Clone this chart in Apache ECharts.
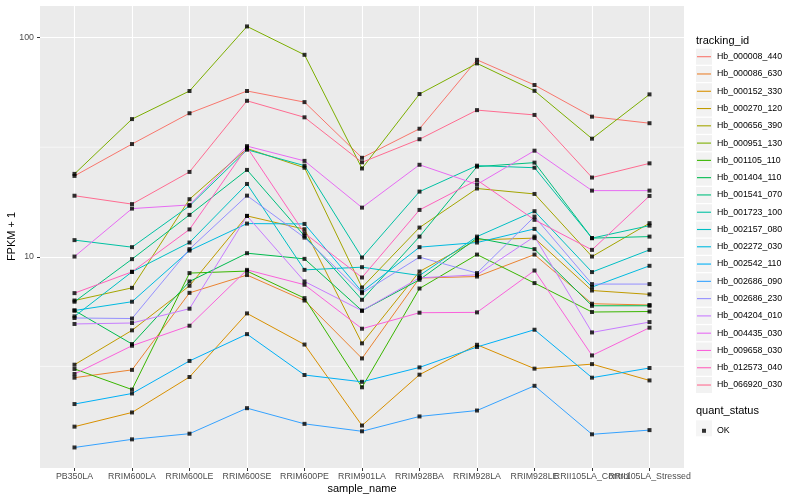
<!DOCTYPE html>
<html><head><meta charset="utf-8">
<script src="https://cdn.jsdelivr.net/npm/echarts@6/dist/echarts.min.js"></script>
<style>html,body{margin:0;padding:0;background:#fff}#c{width:800px;height:500px}</style>
</head><body><div id="c"></div>
<script>
const categories = ['PB350LA','RRIM600LA','RRIM600LE','RRIM600SE','RRIM600PE','RRIM901LA','RRIM928BA','RRIM928LA','RRIM928LE','RRII105LA_Control','RRII105LA_Stressed'];
const trackingIds = ['Hb_000008_440','Hb_000086_630','Hb_000152_330','Hb_000270_120','Hb_000656_390','Hb_000951_130','Hb_001105_110','Hb_001404_110','Hb_001541_070','Hb_001723_100','Hb_002157_080','Hb_002272_030','Hb_002542_110','Hb_002686_090','Hb_002686_230','Hb_004204_010','Hb_004435_030','Hb_009658_030','Hb_012573_040','Hb_066920_030'];
const colors = ['#F8766D','#EA8331','#D89000','#C09B00','#A3A500','#7CAE00','#39B600','#00BB4E','#00BF7D','#00C1A3','#00BFC4','#00BAE0','#00B0F6','#35A2FF','#9590FF','#C77CFF','#E76BF3','#FA62DB','#FF62BC','#FF6C91'];
const yMinorBreaks = [3.1623, 31.623];

const hb000008_440 = [23.4, 32.7, 45.2, 57.1, 50.8, 28.3, 38.4, 79.2, 60.8, 43.6, 40.7];
const hb000086_630 = [2.81, 3.05, 6.85, 8.26, 6.32, 3.44, 8.0, 8.13, 10.24, 6.11, 6.03];
const hb000152_330 = [1.68, 1.95, 2.83, 5.52, 3.98, 1.70, 2.90, 3.97, 3.09, 3.24, 2.73];
const hb000270_120 = [3.22, 4.62, 7.38, 15.37, 13.37, 4.03, 8.57, 11.95, 12.17, 7.02, 6.74];
const hb000656_390 = [6.32, 7.22, 18.32, 31.2, 25.5, 7.25, 13.6, 20.5, 19.36, 10.03, 14.24];
const hb000951_130 = [23.9, 42.5, 57.1, 112.5, 83.5, 25.3, 55.3, 76.3, 57.2, 34.6, 55.1];
const hb001105_110 = [3.08, 2.48, 8.43, 8.61, 6.48, 2.54, 7.17, 10.24, 7.59, 5.60, 5.63];
const hb001404_110 = [5.69, 4.00, 7.72, 10.39, 9.79, 5.68, 7.86, 12.17, 10.84, 5.98, 5.98];
const hb001541_070 = [6.24, 9.76, 15.54, 24.92, 12.46, 6.37, 12.37, 25.79, 26.9, 12.17, 12.37];
const hb001723_100 = [11.92, 11.07, 17.08, 30.8, 26.06, 9.93, 19.84, 26.06, 25.5, 12.17, 13.88];
const hb002157_080 = [5.35, 8.54, 11.62, 21.5, 8.72, 8.97, 8.22, 12.37, 16.15, 8.52, 10.76];
const hb002272_030 = [5.69, 6.24, 10.68, 14.18, 14.13, 6.93, 11.07, 11.62, 13.41, 7.28, 9.10];
const hb002542_110 = [2.13, 2.38, 3.35, 4.44, 2.89, 2.69, 3.13, 3.88, 4.65, 2.81, 3.11];
const hb002686_090 = [1.35, 1.47, 1.56, 2.04, 1.73, 1.60, 1.87, 1.99, 2.58, 1.55, 1.62];
const hb002686_230 = [5.26, 5.23, 10.84, 19.02, 12.24, 6.83, 9.97, 8.43, 15.26, 7.51, 7.51];
const hb004204_010 = [4.94, 4.99, 5.80, 15.37, 7.72, 5.68, 8.02, 8.28, 12.37, 4.52, 5.04];
const hb004435_030 = [10.03, 16.6, 17.25, 32.0, 27.4, 16.77, 26.3, 21.4, 30.5, 20.05, 20.05];
const hb009658_030 = [2.92, 3.93, 4.85, 8.72, 7.46, 4.70, 5.56, 5.58, 8.66, 3.55, 4.75];
const hb012573_040 = [6.83, 8.54, 13.34, 31.6, 12.82, 8.05, 16.37, 22.4, 14.75, 10.76, 18.96];
const hb066920_030 = [19.0, 17.4, 24.4, 51.5, 43.3, 27.0, 34.4, 46.7, 44.4, 23.0, 26.7];

const seriesValues = [hb000008_440, hb000086_630, hb000152_330, hb000270_120, hb000656_390, hb000951_130, hb001105_110, hb001404_110, hb001541_070, hb001723_100, hb002157_080, hb002272_030, hb002542_110, hb002686_090, hb002686_230, hb004204_010, hb004435_030, hb009658_030, hb012573_040, hb066920_030];

const FONT = "'Liberation Sans', Arial, sans-serif";
const catIdx = categories.map((_, i) => i);
const X_MIN = -0.6, X_MAX = categories.length - 1 + 0.6;

const minorGridSeries = yMinorBreaks.map((v, k) => ({
  id: 'minor' + k, type: 'line', symbol: 'none', silent: true, z: 1,
  lineStyle: { color: '#ffffff', width: 0.6 },
  data: [[X_MIN, v], [X_MAX, v]]
}));
const lineSeries = trackingIds.map((id, k) => ({
  name: id, type: 'line', symbol: 'none', silent: true,
  lineStyle: { width: 1, color: colors[k] }, itemStyle: { color: colors[k] },
  data: seriesValues[k].map((v, i) => [i, v]),
  z: 2
}));
const points = [];
seriesValues.forEach(arr => arr.forEach((v, i) => points.push([i, v])));

const chart = echarts.init(document.getElementById('c'), null, { renderer: 'canvas' });
chart.setOption({
  animation: false,
  color: colors,
  textStyle: { fontFamily: FONT },
  grid: [
    { left: 40, right: 116, top: 5, bottom: 32, show: true, backgroundColor: '#EBEBEB', borderWidth: 0, containLabel: false, outerBoundsMode: 'none' },
    { left: 74.5, right: 150.5, top: 5, bottom: 32, show: false, containLabel: false, outerBoundsMode: 'none' }
  ],
  title: [
    { text: 'tracking_id', left: 696, top: 35.5, padding: 0, textStyle: { fontSize: 11, fontWeight: 'normal', color: '#000', fontFamily: FONT } },
    { text: 'quant_status', left: 696, top: 405.5, padding: 0, textStyle: { fontSize: 11, fontWeight: 'normal', color: '#000', fontFamily: FONT } }
  ],
  legend: [
    { z: 3, data: trackingIds, orient: 'vertical', left: 696, top: 48.7, padding: 0, itemWidth: 16, itemHeight: 16, itemGap: 1.28,
      icon: 'rect', itemStyle: { color: '#F2F2F2', borderWidth: 0 }, formatter: () => '', selectedMode: false,
      textStyle: { fontSize: 8.8, fontFamily: FONT } },
    { z: 6, data: trackingIds, orient: 'vertical', left: 696, top: 48.7, padding: 0, itemWidth: 16, itemHeight: 16, itemGap: 1.28,
      icon: 'path://M0,0M16,16M1,7.45L15,7.45L15,8.55L1,8.55Z', symbolKeepAspect: true,
      textStyle: { fontSize: 8.8, color: '#000', fontFamily: FONT } },
    { z: 3, data: ['OK'], orient: 'vertical', left: 696, top: 420.3, padding: 0, itemWidth: 16, itemHeight: 16,
      icon: 'rect', itemStyle: { color: '#F2F2F2', borderWidth: 0 }, formatter: () => '', selectedMode: false,
      textStyle: { fontSize: 8.8, fontFamily: FONT } },
    { z: 6, data: ['OK'], orient: 'vertical', left: 702, top: 426.3, padding: 0, itemWidth: 4, itemHeight: 4,
      icon: 'rect', textStyle: { fontSize: 8.8, color: '#000', fontFamily: FONT, padding: [0, 0, 0, 6] } }
  ],
  xAxis: [{
    type: 'value', min: X_MIN, max: X_MAX, gridIndex: 0,
    axisLine: { show: false, onZero: false },
    axisTick: { show: true, customValues: catIdx, length: 3, lineStyle: { color: '#333333' } },
    axisLabel: { show: false },
    splitLine: { show: true, lineStyle: { color: '#ffffff', width: 1.1 } },
    name: 'sample_name', nameLocation: 'middle', nameGap: 15, nameMoveOverlap: false,
    nameTextStyle: { fontSize: 11, color: '#000', fontFamily: FONT }
  }, {
    type: 'category', gridIndex: 1, data: categories, boundaryGap: false,
    axisLine: { show: false, onZero: false }, axisTick: { show: false }, splitLine: { show: false },
    axisLabel: { interval: 0, hideOverlap: false, fontSize: 8.8, color: '#4D4D4D', margin: 4, fontFamily: FONT }
  }],
  yAxis: [{
    type: 'log', logBase: 10, min: 1.088, max: 140.9, gridIndex: 0,
    axisLine: { show: false, onZero: false },
    axisTick: { show: true, length: 3, lineStyle: { color: '#333333' } },
    axisLabel: { fontSize: 8.8, color: '#4D4D4D', margin: 6, fontFamily: FONT, showMinLabel: false, showMaxLabel: false },
    splitLine: { show: true, lineStyle: { color: '#ffffff', width: 1.1 } },
    name: 'FPKM + 1', nameLocation: 'middle', nameGap: 22.5, nameRotate: 90, nameMoveOverlap: false,
    nameTextStyle: { fontSize: 11, color: '#000', fontFamily: FONT }
  }, {
    type: 'value', gridIndex: 1, show: false, axisLine: { onZero: false }
  }],
  series: minorGridSeries.concat(lineSeries).concat([{
    name: 'OK', type: 'scatter', symbol: 'rect', symbolSize: 4, silent: true,
    itemStyle: { color: '#000000' }, data: points, z: 10
  }])
});
</script></body></html>
